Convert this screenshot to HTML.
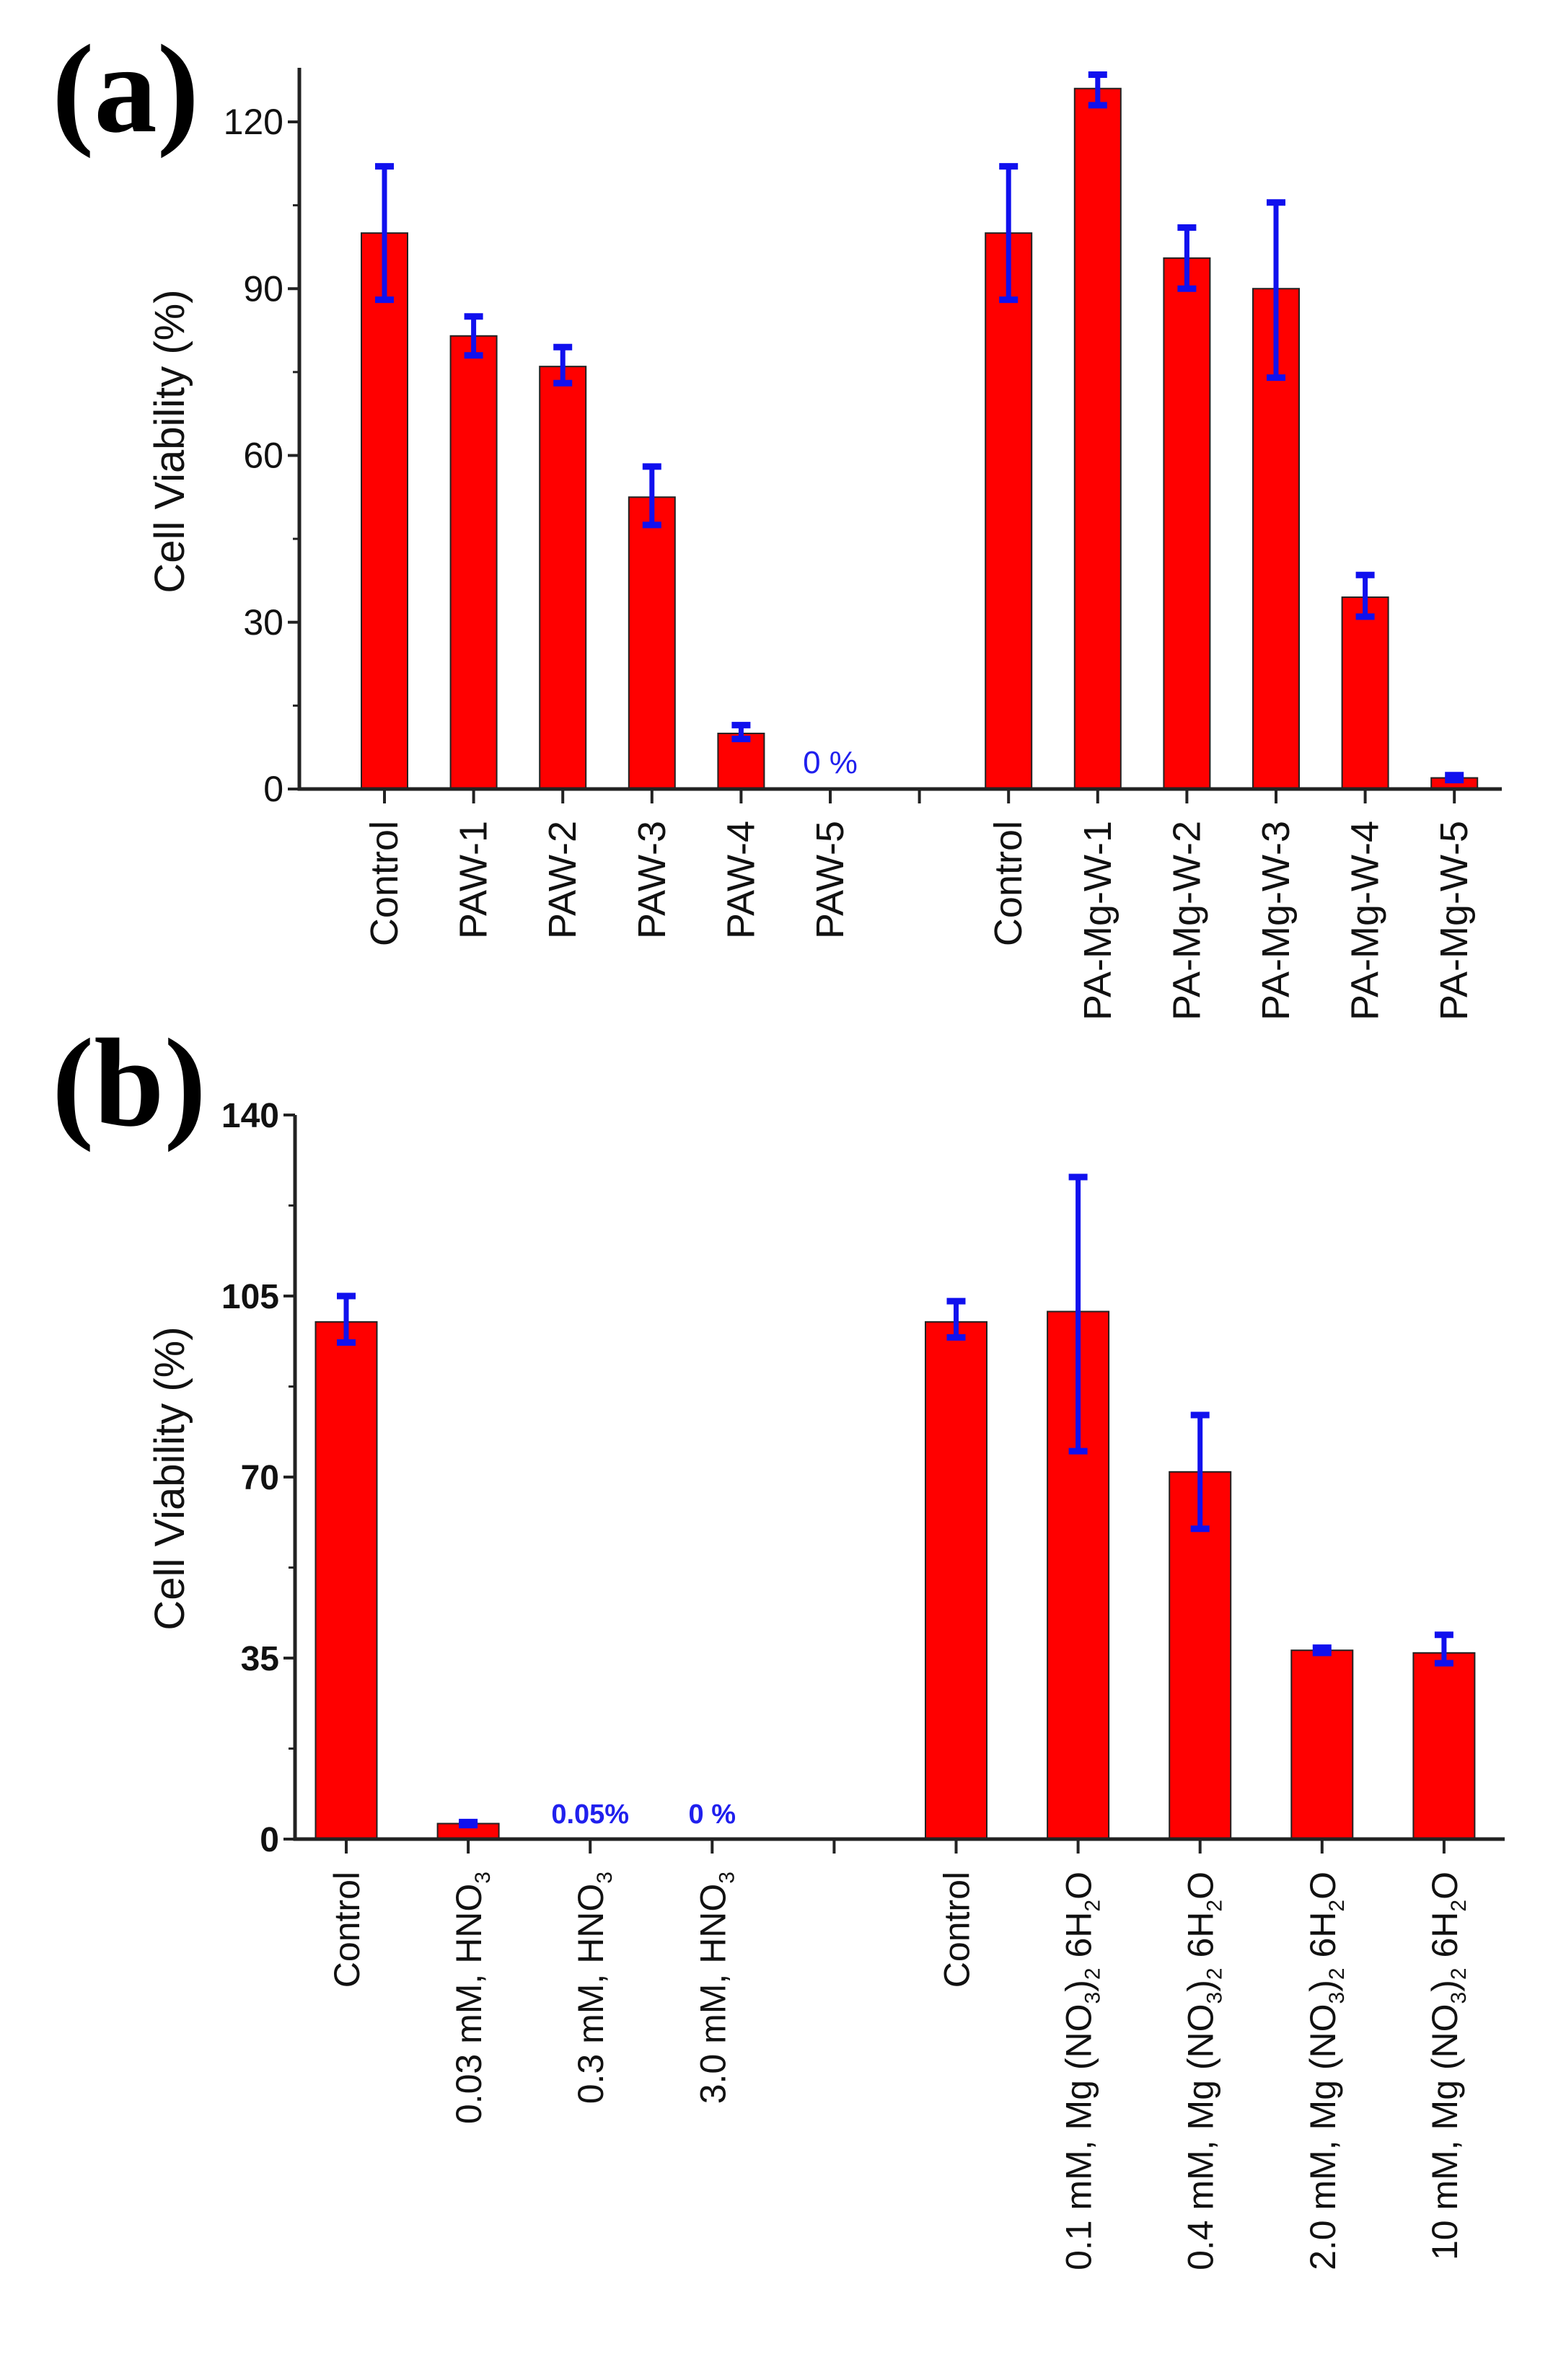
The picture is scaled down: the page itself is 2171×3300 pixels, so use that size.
<!DOCTYPE html>
<html><head><meta charset="utf-8"><style>
html,body{margin:0;padding:0;background:#fff;}
svg{display:block;}
text{font-family:"Liberation Sans",Arial,sans-serif;}
</style></head><body>
<svg id="chart" width="2171" height="3300" viewBox="0 0 2171 3300" xmlns="http://www.w3.org/2000/svg">
<text x="72" y="182" font-family="Liberation Serif" font-weight="bold" font-size="175" style="font-family:'Liberation Serif',serif">(a)</text>
<text x="72" y="1560" font-family="Liberation Serif" font-weight="bold" font-size="175" style="font-family:'Liberation Serif',serif">(b)</text>
<g id="pa"></g>
<g id="pb"></g>
</svg>
<script>
// Panel (a) data
const catsA = ["Control","PAW-1","PAW-2","PAW-3","PAW-4","PAW-5",null,"Control","PA-Mg-W-1","PA-Mg-W-2","PA-Mg-W-3","PA-Mg-W-4","PA-Mg-W-5"];
const valsA = [100,81.5,76,52.5,10,0,null,100,126,95.5,90,34.5,2];
const errLoA = [88,78,73,47.5,9,0,null,88,123,90,74,31,1.6];
const errHiA = [112,85,79.5,58,11.5,0,null,112,128.5,101,105.5,38.5,2.5];
const ticksA = [0,30,60,90,120];
const notesA = [{i:5,text:"0 %"}];
// Panel (b) data
const catsB = ["Control","0.03 mM, HNO3","0.3 mM, HNO3","3.0 mM, HNO3",null,"Control","0.1 mM, Mg","0.4 mM, Mg","2.0 mM, Mg","10 mM, Mg"];
const valsB = [100,3,0,0,null,100,102,71,36.5,36];
const errLoB = [96,2.7,0,0,null,97,75,60,36,34];
const errHiB = [105,3.3,0,0,null,104,128,82,37,39.5];
const ticksB = [0,35,70,105,140];
const notesB = [{i:2,text:"0.05%"},{i:3,text:"0 %"}];

const NS="http://www.w3.org/2000/svg";
function mk(parent,tag,attrs){const e=document.createElementNS(NS,tag);for(const k in attrs)e.setAttribute(k,attrs[k]);parent.appendChild(e);return e;}

function draw(g,cfg){
  const {cats,vals,lo,hi,ticks,notes,x0,x1,yTop,y0,vmax,xFirst,step,bw,tickBold,tickFs,titleY,panel,labelTop,labelFs,axExt}=cfg;
  const ys=v=>y0-(y0-yTop)*v/vmax;
  const xs=i=>xFirst+i*step;
  cats.forEach((c,i)=>{
    if(vals[i]===null||vals[i]<=0)return;
    const r=mk(g,'rect',{x:xs(i)-bw/2,y:ys(vals[i]),width:bw,height:y0-ys(vals[i]),fill:'#ff0000',stroke:'#222','stroke-width':2});
    
    
  });
  cats.forEach((c,i)=>{
    if(vals[i]===null||hi[i]<=0)return;
    const eg=mk(g,'g',{stroke:'#1010ee','stroke-width':7});
    
    
    const x=xs(i);
    mk(eg,'line',{x1:x,x2:x,y1:ys(lo[i]),y2:ys(hi[i])});
    mk(eg,'line',{x1:x-13,x2:x+13,y1:ys(lo[i]),y2:ys(lo[i]),'stroke-width':9});
    mk(eg,'line',{x1:x-13,x2:x+13,y1:ys(hi[i]),y2:ys(hi[i]),'stroke-width':9});
  });
  const ax=mk(g,'path',{d:`M${x0} ${yTop-axExt} V${y0} H${x1}`,stroke:'#222','stroke-width':5,fill:'none'});
  
  
  ticks.forEach(t=>{
    mk(g,'line',{x1:x0-16,x2:x0,y1:ys(t),y2:ys(t),stroke:'#222','stroke-width':4});
    const tx=mk(g,'text',{x:x0-22,y:ys(t)+17,'text-anchor':'end','font-size':tickFs,'font-weight':tickBold?'bold':'normal',fill:'#111'});
    tx.textContent=t;
    
    
  });
  for(let k=0;k<ticks.length-1;k++){const m=(ticks[k]+ticks[k+1])/2;mk(g,'line',{x1:x0-9,x2:x0,y1:ys(m),y2:ys(m),stroke:'#222','stroke-width':3});}
  cats.forEach((c,i)=>{mk(g,'line',{x1:xs(i),x2:xs(i),y1:y0,y2:y0+20,stroke:'#222','stroke-width':4});});
  cats.forEach((c,i)=>{
    if(c===null)return;
    const t=mk(g,'text',{transform:`translate(${xs(i)+18},${labelTop}) rotate(-90)`,'text-anchor':'end','font-size':labelFs,fill:'#111'});
    
    
    if(c.endsWith('HNO3')){t.appendChild(document.createTextNode(c.slice(0,-1)));const s=mk(t,'tspan',{'font-size':labelFs*0.6,dy:12});s.textContent='3';}
    else if(c.endsWith(' Mg')){t.appendChild(document.createTextNode(c+' (NO'));
      let s=mk(t,'tspan',{'font-size':labelFs*0.6,dy:12});s.textContent='3';
      s=mk(t,'tspan',{'font-size':labelFs,dy:-12});s.textContent=')';
      s=mk(t,'tspan',{'font-size':labelFs*0.6,dy:12});s.textContent='2';
      s=mk(t,'tspan',{'font-size':labelFs,dy:-12});s.textContent=' 6H';
      s=mk(t,'tspan',{'font-size':labelFs*0.6,dy:12});s.textContent='2';
      s=mk(t,'tspan',{'font-size':labelFs,dy:-12});s.textContent='O';}
    else t.textContent=c;
  });
  notes.forEach(n=>{
    const t=mk(g,'text',{x:xs(n.i),y:y0-22,'text-anchor':'middle','font-size':panel==='a'?44:38,'font-weight':panel==='b'?'bold':'normal',fill:'#2020ee'});
    t.textContent=n.text;
    
    
  });
  const yt=mk(g,'text',{transform:`translate(255,${titleY}) rotate(-90)`,'text-anchor':'middle','font-size':58,fill:'#111'});
  yt.textContent='Cell Viability (%)';
  
  
}
draw(document.getElementById('pa'),{cats:catsA,vals:valsA,lo:errLoA,hi:errHiA,ticks:ticksA,notes:notesA,
  x0:415,x1:2082,yTop:169,y0:1094,vmax:120,xFirst:533,step:123.6,bw:64,tickBold:false,tickFs:50,titleY:612,panel:'a',labelTop:1138,labelFs:54,axExt:75});
draw(document.getElementById('pb'),{cats:catsB,vals:valsB,lo:errLoB,hi:errHiB,ticks:ticksB,notes:notesB,
  x0:409,x1:2086,yTop:1546,y0:2550,vmax:140,xFirst:480,step:169.1,bw:85,tickBold:true,tickFs:48,titleY:2050,panel:'b',labelTop:2595,labelFs:50,axExt:0});
</script>
</body></html>
